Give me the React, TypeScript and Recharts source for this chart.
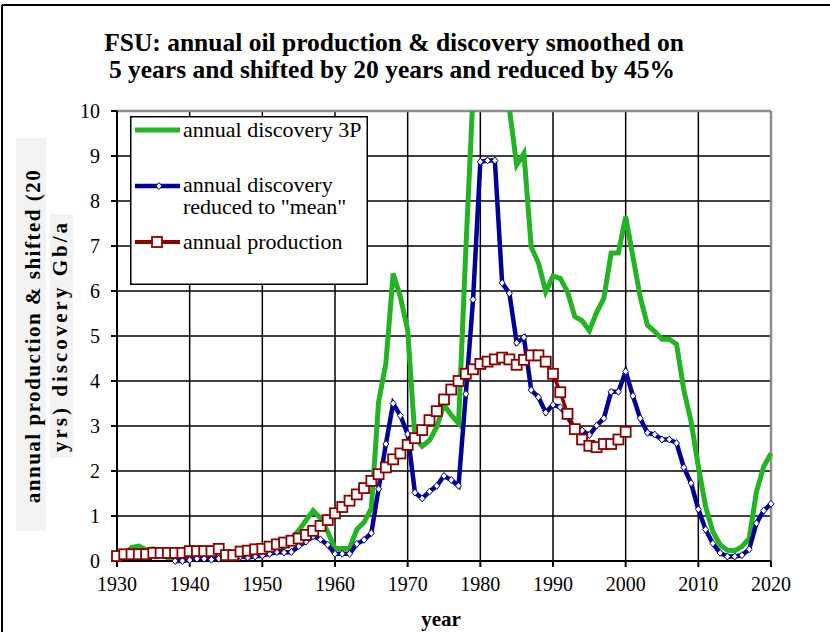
import React from 'react';
import { LineChart, Line, XAxis, YAxis, CartesianGrid, Legend, ReferenceLine } from 'recharts';

// years 1930 .. 2020
const years = [
  1930, 1931, 1932, 1933, 1934, 1935, 1936, 1937, 1938, 1939,
  1940, 1941, 1942, 1943, 1944, 1945, 1946, 1947, 1948, 1949,
  1950, 1951, 1952, 1953, 1954, 1955, 1956, 1957, 1958, 1959,
  1960, 1961, 1962, 1963, 1964, 1965, 1966, 1967, 1968, 1969,
  1970, 1971, 1972, 1973, 1974, 1975, 1976, 1977, 1978, 1979,
  1980, 1981, 1982, 1983, 1984, 1985, 1986, 1987, 1988, 1989,
  1990, 1991, 1992, 1993, 1994, 1995, 1996, 1997, 1998, 1999,
  2000, 2001, 2002, 2003, 2004, 2005, 2006, 2007, 2008, 2009,
  2010, 2011, 2012, 2013, 2014, 2015, 2016, 2017, 2018, 2019,
  2020,
];

// annual discovery 3P (goes off the top of the chart around 1980)
const discovery3P = [
  0.03, 0.12, 0.3, 0.33, 0.25, 0.27, 0.22, 0.06, 0.02, 0.02,
  0.05, 0.08, 0.08, 0.06, 0.08, 0.1, 0.12, 0.14, 0.12, 0.14,
  0.17, 0.22, 0.27, 0.3, 0.5, 0.68, 0.9, 1.12, 0.95, 0.65,
  0.28, 0.28, 0.28, 0.7, 0.86, 1.17, 3.54, 4.39, 6.39, 5.87,
  5.13, 2.74, 2.55, 2.68, 2.98, 3.47, 3.24, 3.06, 6.9, 10.4,
  11.5, 12.2, 12.0, 11.5, 10.05, 8.8, 9.06, 6.98, 6.62, 5.98,
  6.33, 6.28, 5.98, 5.43, 5.34, 5.12, 5.52, 5.84, 6.84, 6.85,
  7.65, 6.76, 5.87, 5.24, 5.1, 4.93, 4.93, 4.82, 3.8, 3.1,
  2.1, 1.21, 0.65, 0.36, 0.24, 0.23, 0.32, 0.5, 1.54, 2.1,
  2.39,
];

// annual discovery reduced to "mean" (starts 1938)
const discoveryMean = [
  null, null, null, null, null, null, null, null, 0.0, 0.0,
  0.02, 0.05, 0.05, 0.03, 0.05, 0.07, 0.08, 0.1, 0.08, 0.1,
  0.12, 0.16, 0.2, 0.19, 0.2, 0.33, 0.43, 0.55, 0.48, 0.36,
  0.16, 0.16, 0.16, 0.38, 0.47, 0.62, 1.6, 2.6, 3.5, 3.23,
  2.82, 1.52, 1.39, 1.54, 1.67, 1.89, 1.8, 1.67, 3.71, 5.81,
  8.87, 8.9, 8.9, 6.18, 5.95, 4.85, 4.97, 3.8, 3.64, 3.3,
  3.47, 3.42, 3.2, 2.95, 2.9, 2.8, 3.01, 3.17, 3.76, 3.76,
  4.21, 3.67, 3.17, 2.85, 2.81, 2.7, 2.7, 2.62, 2.08, 1.73,
  1.15, 0.7, 0.39, 0.18, 0.1, 0.1, 0.13, 0.26, 0.84, 1.12,
  1.27,
];

// annual production (1930 .. 2000)
const production = [
  0.11, 0.15, 0.15, 0.15, 0.15, 0.18, 0.18, 0.18, 0.18, 0.18,
  0.22, 0.22, 0.22, 0.22, 0.27, 0.13, 0.13, 0.21, 0.23, 0.26,
  0.27, 0.32, 0.37, 0.41, 0.45, 0.5, 0.58, 0.67, 0.78, 0.91,
  1.06, 1.2, 1.34, 1.48, 1.62, 1.78, 1.93, 2.08, 2.26, 2.39,
  2.58, 2.73, 2.91, 3.13, 3.33, 3.59, 3.81, 4.0, 4.16, 4.26,
  4.38, 4.43, 4.48, 4.52, 4.48, 4.36, 4.47, 4.57, 4.57, 4.43,
  4.16, 3.75, 3.27, 2.93, 2.7, 2.56, 2.53, 2.6, 2.6, 2.7,
  2.87,
];

const xTicks = [1930, 1940, 1950, 1960, 1970, 1980, 1990, 2000, 2010, 2020];
const yTicks = [0, 1, 2, 3, 4, 5, 6, 7, 8, 9, 10];

const GREEN = '#22b422';
const BLUE = '#000096';
const RED = '#8b0000';
const SERIF = "'Liberation Serif', 'Times New Roman', serif";

const data = years.map((year, i) => ({
  year,
  d3p: discovery3P[i],
  mean: discoveryMean[i],
  prod: i < production.length ? production[i] : null,
}));

const DiamondDot = (props: any) => {
  const { cx, cy, index, value } = props;
  if (cx == null || cy == null || value == null) return <g key={`d-${index}`} />;
  return (
    <path
      key={`d-${index}`}
      d={`M${cx},${cy - 3.5}L${cx + 3},${cy}L${cx},${cy + 3.5}L${cx - 3},${cy}Z`}
      fill="#fff"
      stroke={BLUE}
      strokeWidth={1}
    />
  );
};

const SquareDot = (props: any) => {
  const { cx, cy, index, value } = props;
  if (cx == null || cy == null || value == null) return <g key={`s-${index}`} />;
  return (
    <rect key={`s-${index}`} x={cx - 5} y={cy - 5} width={10} height={10} fill="#fff" stroke={RED} strokeWidth={1.8} />
  );
};

const legendText = { fontFamily: SERIF, fontSize: 22, fill: '#000' };

const LegendBox = () => (
  <svg width={238} height={169} style={{ display: 'block' }}>
    <rect x={0.75} y={0.75} width={236.5} height={167.5} fill="#fff" stroke="#000" strokeWidth={1.5} />
    <line x1={5} x2={50} y1={14} y2={14} stroke={GREEN} strokeWidth={5} />
    <text x={53} y={21} style={legendText}>annual discovery 3P</text>

    <line x1={5} x2={50} y1={70} y2={70} stroke={BLUE} strokeWidth={4.5} />
    <path d="M29,66.5L32,70L29,73.5L26,70Z" fill="#fff" stroke={BLUE} strokeWidth={1} />
    <text x={53} y={76} style={legendText}>annual discovery</text>
    <text x={53} y={98} style={legendText}>reduced to "mean"</text>

    <line x1={5} x2={50} y1={126} y2={126} stroke={RED} strokeWidth={4} />
    <rect x={22} y={121} width={10} height={10} fill="#fff" stroke={RED} strokeWidth={1.8} />
    <text x={53} y={133} style={legendText}>annual production</text>
  </svg>
);

const boldText = { fontFamily: SERIF, fontWeight: 'bold' as const, fill: '#000' };

export default function App() {
  return (
    <div style={{ position: 'absolute', left: 0, top: 0, width: 830, height: 632, background: '#fff', overflow: 'hidden' }}>
      <LineChart
        width={830}
        height={632}
        data={data}
        margin={{ top: 111, right: 59, bottom: 41, left: 57 }}
      >
        <CartesianGrid stroke="#000" strokeWidth={1.5} />
        <XAxis
          dataKey="year"
          type="number"
          domain={[1930, 2020]}
          ticks={xTicks}
          height={30}
          tickSize={6}
          tickMargin={10}
          axisLine={{ stroke: '#000', strokeWidth: 2 }}
          tickLine={{ stroke: '#000', strokeWidth: 2 }}
          tick={{ fill: '#000', fontSize: 20, style: { fontFamily: SERIF } }}
        />
        <YAxis
          domain={[0, 10]}
          ticks={yTicks}
          width={60}
          tickSize={6}
          tickMargin={11}
          axisLine={{ stroke: '#000', strokeWidth: 2 }}
          tickLine={{ stroke: '#000', strokeWidth: 2 }}
          tick={{ fill: '#000', fontSize: 20, style: { fontFamily: SERIF } }}
        />
        <YAxis yAxisId="clip" domain={[0, 10]} allowDataOverflow hide />
        <ReferenceLine y={10} stroke="#8c8c8c" strokeWidth={2.5} />
        <ReferenceLine x={2020} stroke="#8c8c8c" strokeWidth={2.5} />
        <Legend
          layout="horizontal"
          verticalAlign="middle"
          align="center"
          wrapperStyle={{ left: 130, top: 116, width: 238, height: 169 }}
          content={() => <LegendBox />}
        />
        <Line
          yAxisId="clip"
          type="linear"
          dataKey="d3p"
          stroke={GREEN}
          strokeWidth={5}
          dot={false}
          isAnimationActive={false}
        />
        <Line
          type="linear"
          dataKey="mean"
          stroke={BLUE}
          strokeWidth={4.5}
          dot={DiamondDot}
          isAnimationActive={false}
        />
        <Line
          type="linear"
          dataKey="prod"
          stroke={RED}
          strokeWidth={3.5}
          dot={SquareDot}
          isAnimationActive={false}
        />
      </LineChart>

      <svg width={830} height={632} style={{ position: 'absolute', left: 0, top: 0, pointerEvents: 'none' }}>
        <line x1={2} x2={830} y1={5} y2={5} stroke="#000" strokeWidth={2} />
        <line x1={2} x2={2} y1={5} y2={632} stroke="#000" strokeWidth={2} />
        <text x={394} y={51} style={{ ...boldText, fontSize: 25.5 }} textAnchor="middle">
          FSU: annual oil production &amp; discovery smoothed on
        </text>
        <text x={392} y={78} style={{ ...boldText, fontSize: 25.5 }} textAnchor="middle">
          5 years and shifted by 20 years and reduced by 45%
        </text>
        <text x={441} y={626} style={{ ...boldText, fontSize: 21 }} textAnchor="middle">year</text>
        <rect x={16} y={138} width={30} height={393} fill="#f3f3f3" />
        <rect x={50} y={214} width={23} height={244} fill="#f3f3f3" />
        <text transform="translate(40,336) rotate(-90)" style={{ ...boldText, fontSize: 21, letterSpacing: 1.5 }} textAnchor="middle">
          annual production &amp; shifted (20
        </text>
        <text transform="translate(67,336) rotate(-90)" style={{ ...boldText, fontSize: 21, letterSpacing: 3 }} textAnchor="middle">
          yrs) discovery Gb/a
        </text>
      </svg>
    </div>
  );
}
